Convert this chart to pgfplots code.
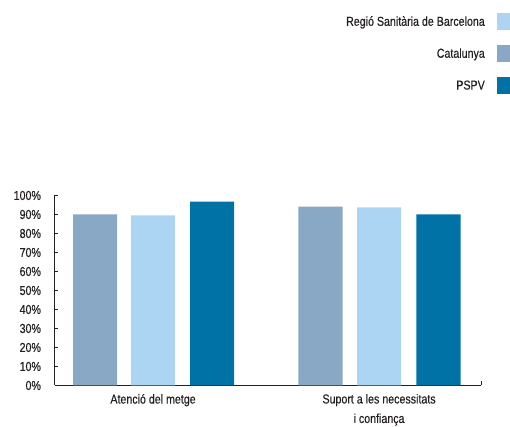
\documentclass[border=0pt]{standalone}
\usepackage{fontspec}
\setmainfont{Liberation Sans}[FakeStretch=0.82, FakeBold=0.4]
\usepackage{pgfplots}
\pgfplotsset{compat=1.18}
\definecolor{cat}{HTML}{89A8C6}
\definecolor{reg}{HTML}{ABD5F2}
\definecolor{pspv}{HTML}{0072A6}
\definecolor{txt}{HTML}{231F20}
\definecolor{axc}{HTML}{231F20}
\begin{document}
\begin{tikzpicture}[font=\fontsize{13}{19.5}\selectfont]
\path[use as bounding box] (0,0) rectangle (510pt,427pt);
\begin{axis}[
  at={(54.5pt,41.5pt)}, anchor=south west,
  scale only axis, width=426.5pt, height=190pt,
  xmin=-0.436, xmax=1.451, ymin=0, ymax=100,
  axis lines*=left,
  axis line style={axc},
  x axis line style={line width=1.6pt},
  y axis line style={line width=0.8pt},
  tick align=inside,
  major tick length=3pt,
  ytick={0,10,...,100},
  yticklabel={\pgfmathprintnumber{\tick}\%},
  ytick style={axc, line width=0.6pt},
  xtick={0,1},
  xticklabels={Atenció del metge, {Suport a les necessitats\\i confiança}},
  xtick style={draw=none},
  xticklabel style={align=center, text=txt, yshift=-5pt},
  yticklabel style={text=txt, xshift=-10pt},
  /pgf/number format/assume math mode=true,
  legend style={draw=none, fill=none, at={(1.068,1.96)}, anchor=north east,
    row sep=15pt, column sep=12pt, inner sep=0pt,
    nodes={inner sep=0pt, text=txt}},
  legend cell align=right,
  legend plot pos=right,
  legend image code/.code={\fill[#1] (0pt,-8.5pt) rectangle (13pt,8.5pt);},
  clip=false,
]
\addlegendimage{fill=reg, draw=none}
\addlegendentry{Regió Sanitària de Barcelona}
\addlegendimage{fill=cat, draw=none}
\addlegendentry{Catalunya}
\addlegendimage{fill=pspv, draw=none}
\addlegendentry{PSPV}
\addplot[ybar, bar shift=0pt, bar width=0.195, fill=cat, draw=none, forget plot]
  coordinates {(-0.256,90.0) (0.741,94.2)};
\addplot[ybar, bar shift=0pt, bar width=0.195, fill=reg, draw=none, forget plot]
  coordinates {(0,89.5) (1,93.7)};
\addplot[ybar, bar shift=0pt, bar width=0.195, fill=pspv, draw=none, forget plot]
  coordinates {(0.261,96.8) (1.263,90.0)};
\draw[axc, line width=0.6pt] (rel axis cs:1,0) -- ++(90:4.5pt);
\end{axis}
\end{tikzpicture}
\end{document}
